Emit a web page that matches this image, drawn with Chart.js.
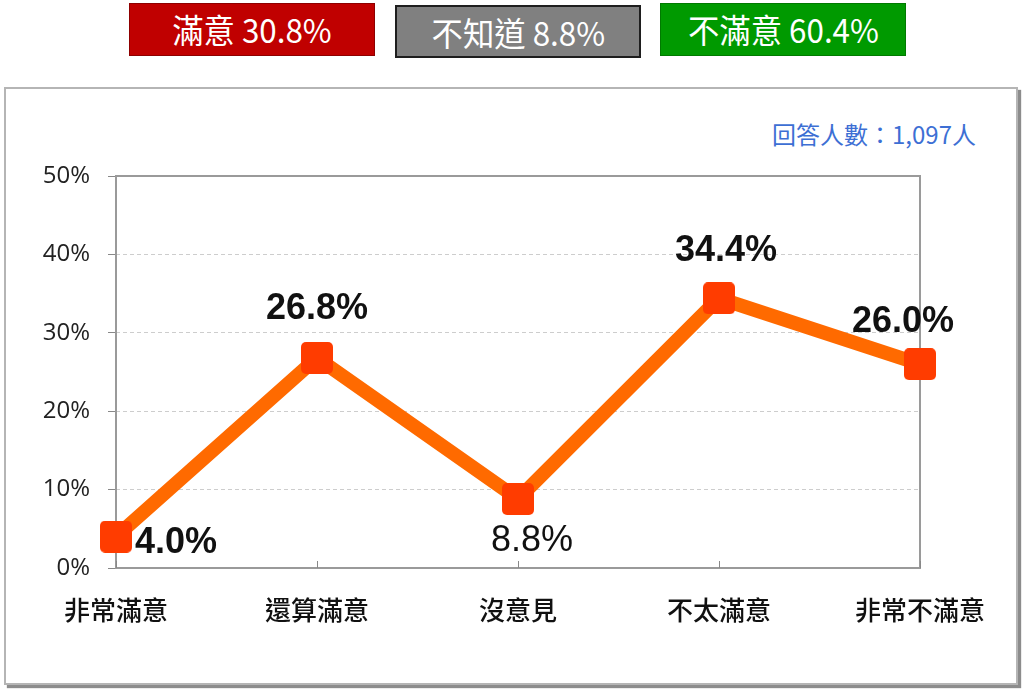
<!DOCTYPE html>
<html>
<head>
<meta charset="utf-8">
<script src="https://cdn.jsdelivr.net/npm/chart.js@4/dist/chart.umd.min.js"></script>
<style>
  html, body { margin: 0; padding: 0; background: #fff; }
  body { width: 1024px; height: 689px; position: relative; overflow: hidden; }
  .frame {
    position: absolute; left: 4px; top: 87px; width: 1010px; height: 594px;
    border: 2px solid #b5b5b5; box-shadow: 3px 3px 1px #8c8c8c; background: #fff;
  }
  .tag {
    position: absolute; height: 53px; line-height: 50px; text-align: center;
    color: #fff; font-family: "Noto Sans CJK TC", sans-serif; font-size: 33px; font-weight: 400;
    box-sizing: border-box; white-space: nowrap;
  }
  .tag span { display: inline-block; transform: scaleX(0.95); }
  .sat { left: 129px; top: 3px; width: 246px; background: #c00000; border: 1px solid #8e0000; }
  .mid { left: 395px; top: 5px; width: 246px; background: #808080; border: 2px solid #1e1e1e; }
  .dis { left: 660px; top: 3px; width: 246px; background: #009a00; border: 1px solid #007a00; }
  .note {
    position: absolute; right: 48px; top: 118px; font-family: "Noto Sans CJK TC", sans-serif;
    font-size: 24px; font-weight: 400; line-height: 32px; color: #3d6fd4;
  }
  canvas { position: absolute; left: 0; top: 0; }
</style>
</head>
<body>
<div class="frame"></div>
<div class="tag sat"><span>滿意 30.8%</span></div>
<div class="tag mid"><span>不知道 8.8%</span></div>
<div class="tag dis"><span>不滿意 60.4%</span></div>
<div class="note">回答人數：1,097人</div>
<canvas id="chart" width="1024" height="689"></canvas>
<script>
// Survey answers and their shares (%)
const categories = ['非常滿意', '還算滿意', '沒意見', '不太滿意', '非常不滿意'];
const shares = [4.0, 26.8, 8.8, 34.4, 26.0];
const yTicks = [0, 10, 20, 30, 40, 50];

// Where each value label sits relative to its marker
const labelPlacement = [
  { dx: 19, dy: 6, align: 'left', bold: true },
  { dx: 0, dy: -49, align: 'center', bold: true },
  { dx: 14, dy: 42, align: 'center', bold: false },
  { dx: 7, dy: -47, align: 'center', bold: true },
  { dx: -17, dy: -42, align: 'center', bold: true }
];

// Rounded square marker
const marker = document.createElement('canvas');
marker.width = 32; marker.height = 32;
(function () {
  const c = marker.getContext('2d');
  c.fillStyle = '#ff3c00';
  c.beginPath();
  if (c.roundRect) c.roundRect(0, 0, 32, 32, 5); else c.rect(0, 0, 32, 32);
  c.fill();
})();

const plotFrame = {
  id: 'plotFrame',
  beforeDatasetsDraw(chart) {
    const { ctx, chartArea: a, scales } = chart;
    ctx.save();
    ctx.strokeStyle = '#9a9a9a';
    ctx.lineWidth = 2;
    ctx.strokeRect(a.left, a.top, a.right - a.left, a.bottom - a.top);
    // small inward tick marks on the category axis
    ctx.lineWidth = 1;
    ctx.strokeStyle = '#888';
    categories.forEach((c, i) => {
      const x = Math.round(scales.x.getPixelForValue(i)) + 0.5;
      ctx.beginPath();
      ctx.moveTo(x, a.bottom);
      ctx.lineTo(x, a.bottom - 7);
      ctx.stroke();
    });
    ctx.restore();
  }
};

const valueLabels = {
  id: 'valueLabels',
  afterDatasetsDraw(chart) {
    const { ctx } = chart;
    const meta = chart.getDatasetMeta(0);
    ctx.save();
    ctx.fillStyle = '#111';
    ctx.textBaseline = 'middle';
    meta.data.forEach((pt, i) => {
      const p = labelPlacement[i];
      ctx.font = (p.bold ? 'bold ' : '') + '36px "Liberation Sans", Arial, sans-serif';
      ctx.textAlign = p.align;
      ctx.fillText(shares[i].toFixed(1) + '%', pt.x + p.dx, pt.y + p.dy);
    });
    ctx.restore();
  }
};

new Chart(document.getElementById('chart'), {
  type: 'line',
  data: {
    labels: categories,
    datasets: [{
      data: shares,
      borderColor: '#ff6a00',
      borderWidth: 14,
      tension: 0,
      fill: false,
      pointStyle: marker,
      pointRadius: 16,
      pointHoverRadius: 16
    }]
  },
  options: {
    responsive: false,
    animation: false,
    devicePixelRatio: 1,
    layout: { padding: { top: 176, right: 104, bottom: 0, left: 0 } },
    plugins: { legend: { display: false }, tooltip: { enabled: false } },
    scales: {
      x: {
        type: 'category',
        offset: false,
        grid: { display: false, drawTicks: false },
        border: { display: false },
        ticks: {
          font: { family: '"Noto Sans CJK TC", sans-serif', size: 26, weight: '500' },
          color: '#111',
          padding: 27,
          maxRotation: 0,
          autoSkip: false
        },
        afterFit(scale) { scale.height = 121; }
      },
      y: {
        min: 0,
        max: 50,
        afterBuildTicks(scale) { scale.ticks = yTicks.map(v => ({ value: v })); },
        grid: {
          color: ctx => (ctx.tick && (ctx.tick.value === 0 || ctx.tick.value === 50)) ? 'rgba(0,0,0,0)' : '#cdcdcd',
          lineWidth: 1,
          drawTicks: true,
          tickLength: 8,
          tickColor: '#888'
        },
        border: { display: false, dash: [4, 3] },
        ticks: {
          callback: v => v + '%',
          font: { family: '"Open Sans", sans-serif', size: 24 },
          color: '#222',
          padding: 18
        },
        afterFit(scale) { scale.width = 116; }
      }
    }
  },
  plugins: [plotFrame, valueLabels]
});
</script>
</body>
</html>
